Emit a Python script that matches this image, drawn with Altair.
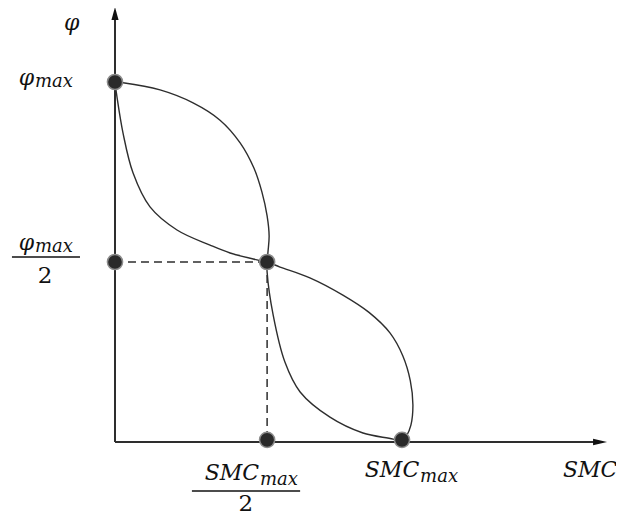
import altair as alt
import pandas as pd

# ---- data (in units of SMC_max and phi_max) ----
curve_a_x = [0, 0.028, 0.157, 0.272, 0.366, 0.436, 0.484, 0.512, 0.530, 0.537, 0.533, 0.530,
             0.530, 0.551, 0.592, 0.645, 0.749, 0.864, 0.969, 1.0]
curve_a_y = [1, 0.998, 0.978, 0.942, 0.894, 0.831, 0.761, 0.694, 0.628, 0.572, 0.528, 0.5,
             0.472, 0.353, 0.222, 0.139, 0.069, 0.025, 0.008, 0.0]

curve_b_x = [0, 0.007, 0.028, 0.063, 0.122, 0.216, 0.331, 0.401, 0.495, 0.530, 0.575, 0.679,
             0.794, 0.885, 0.958, 1.003, 1.029, 1.038, 1.031, 1.014, 1.0]
curve_b_y = [1, 0.958, 0.858, 0.747, 0.653, 0.589, 0.547, 0.525, 0.506, 0.5, 0.486, 0.456,
             0.408, 0.360, 0.303, 0.239, 0.170, 0.103, 0.047, 0.014, 0.0]

dot_x = [0, 0, 0.53, 0.53, 1.0]
dot_y = [1, 0.5, 0.5, 0.006, 0.006]

X_DOM = [-0.3728, 1.7456]
Y_DOM = [-0.2139, 1.2056]
W, H = 608, 511

xs = alt.Scale(domain=X_DOM, nice=False, zero=False)
ys = alt.Scale(domain=Y_DOM, nice=False, zero=False)
INK = "#2e2e2e"
FONT = "DejaVu Serif"


def X(f="x"):
    return alt.X(f"{f}:Q", scale=xs, axis=None)


def Y(f="y"):
    return alt.Y(f"{f}:Q", scale=ys, axis=None)


rows = []
for i, (a, b) in enumerate(zip(curve_a_x, curve_a_y)):
    rows.append({"curve": "A", "i": i, "x": a, "y": b})
for i, (a, b) in enumerate(zip(curve_b_x, curve_b_y)):
    rows.append({"curve": "B", "i": i, "x": a, "y": b})
curves_df = pd.DataFrame(rows)

curves = alt.Chart(curves_df).mark_line(
    interpolate="catmull-rom", color=INK, strokeWidth=1.4
).encode(x=X(), y=Y(), detail="curve:N", order="i:Q")

# axes
axes_df = pd.DataFrame([
    {"x": 0, "x2": 0, "y": 0.0, "y2": 1.19},
    {"x": 0, "x2": 1.70, "y": 0.0, "y2": 0.0},
])
axes = alt.Chart(axes_df).mark_rule(color=INK, strokeWidth=2).encode(
    x=X(), x2="x2:Q", y=Y(), y2="y2:Q"
)

up_arrow = alt.Chart(pd.DataFrame({"x": [0], "y": [1.19]})).mark_point(
    shape="M0,-1L0.55,1L-0.55,1Z", size=169, filled=True, color="#111", opacity=1
).encode(x=X(), y=Y())

right_arrow = alt.Chart(pd.DataFrame({"x": [1.69], "y": [0.0]})).mark_point(
    shape="M1,0L-1,-0.45L-1,0.45Z", size=196, filled=True, color="#111", opacity=1
).encode(x=X(), y=Y())

# dashed guides
dash_df = pd.DataFrame([
    {"x": 0, "x2": 0.53, "y": 0.5, "y2": 0.5},
    {"x": 0.53, "x2": 0.53, "y": 0.5, "y2": 0.0},
])
dashes = alt.Chart(dash_df).mark_rule(color=INK, strokeWidth=1.5, strokeDash=[8, 5]).encode(
    x=X(), x2="x2:Q", y=Y(), y2="y2:Q"
)

dots = alt.Chart(pd.DataFrame({"x": dot_x, "y": dot_y})).mark_circle(
    size=230, color="#2a2a2a", opacity=1, stroke="#8c8c8c", strokeWidth=1.5
).encode(x=X(), y=Y())

# labels: main symbol is right-aligned where its subscript begins
main_df = pd.DataFrame([
    {"x": -0.282, "y": 1.011, "t": "φ"},
    {"x": -0.282, "y": 0.553, "t": "φ"},
    {"x": 0.502, "y": -0.086, "t": "SMC"},
    {"x": 1.060, "y": -0.078, "t": "SMC"},
])
main = alt.Chart(main_df).mark_text(
    font=FONT, fontStyle="italic", fontSize=22, align="right", baseline="middle", color="#111"
).encode(x=X(), y=Y(), text="t:N")

free_df = pd.DataFrame([
    {"x": -0.178, "y": 1.164, "t": "φ"},
    {"x": 1.561, "y": -0.078, "t": "SMC"},
])
free = alt.Chart(free_df).mark_text(
    font=FONT, fontStyle="italic", fontSize=22, align="left", baseline="middle", color="#111"
).encode(x=X(), y=Y(), text="t:N")

sub_df = pd.DataFrame([
    {"x": -0.279, "y": 1.0, "t": "max"},
    {"x": -0.279, "y": 0.542, "t": "max"},
    {"x": 0.505, "y": -0.106, "t": "max"},
    {"x": 1.063, "y": -0.097, "t": "max"},
])
sub = alt.Chart(sub_df).mark_text(
    font=FONT, fontStyle="italic", fontSize=18, align="left", baseline="middle", color="#111"
).encode(x=X(), y=Y(), text="t:N")

two_df = pd.DataFrame([
    {"x": -0.244, "y": 0.461, "t": "2"},
    {"x": 0.456, "y": -0.172, "t": "2"},
])
twos = alt.Chart(two_df).mark_text(
    font=FONT, fontSize=23, align="center", baseline="middle", color="#111"
).encode(x=X(), y=Y(), text="t:N")

bar_df = pd.DataFrame([
    {"x": -0.359, "x2": -0.122, "y": 0.514},
    {"x": 0.268, "x2": 0.645, "y": -0.136},
])
bars = alt.Chart(bar_df).mark_rule(color="#111", strokeWidth=1.5).encode(
    x=X(), x2="x2:Q", y=Y()
)

chart = alt.layer(
    axes, dashes, curves, up_arrow, right_arrow, dots, main, free, sub, twos, bars
).properties(
    width=W, height=H, padding=0, autosize=alt.AutoSizeParams(type="none")
).configure_view(stroke=None)

chart.save("out.html", embed_options={"renderer": "svg", "actions": False})
